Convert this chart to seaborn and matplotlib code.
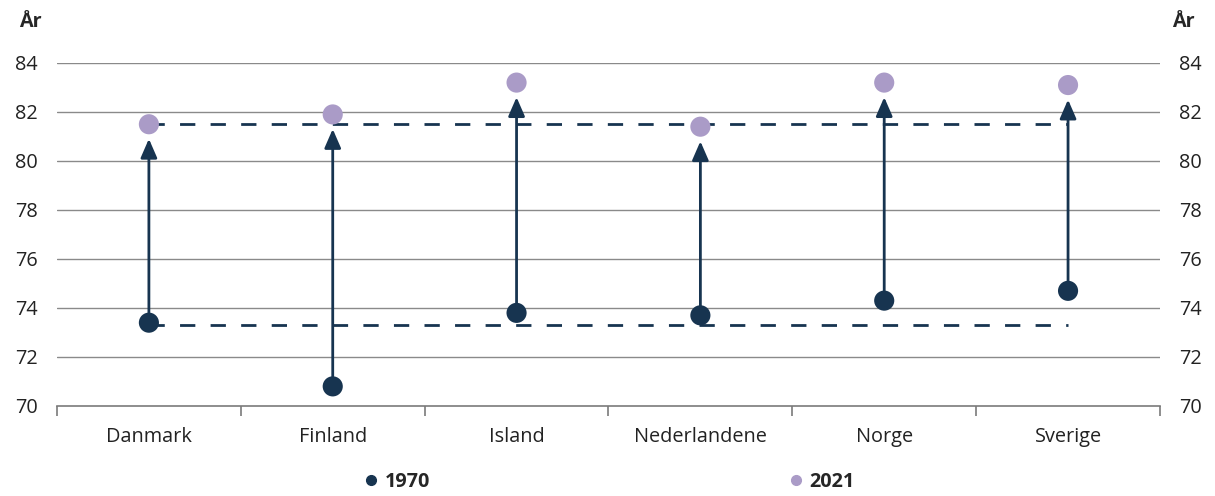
import pandas as pd
import matplotlib.pyplot as plt
import seaborn as sns
from matplotlib.lines import Line2D
from matplotlib.ticker import FixedLocator

countries = ["Danmark", "Finland", "Island", "Nederlandene", "Norge", "Sverige"]
y1970 = [73.4, 70.8, 73.8, 73.7, 74.3, 74.7]
y2021 = [81.5, 81.9, 83.2, 81.4, 83.2, 83.1]
ref_lines = [73.3, 81.5]
yticks = [70, 72, 74, 76, 78, 80, 82, 84]

navy = "#173450"
purple = "#aa9bc7"
grid_col = "#8a8a8a"

df = pd.DataFrame({
    "land": countries * 2,
    "alder": y1970 + y2021,
    "aar": ["1970"] * len(countries) + ["2021"] * len(countries),
})

sns.set_style("white")
plt.rcParams["font.family"] = ["Open Sans", "DejaVu Sans"]
fs = 14.3

fig, ax = plt.subplots(figsize=(12.15, 4.96), dpi=100)
fig.subplots_adjust(left=0.0469, right=0.9547, top=0.873, bottom=0.1815)

# points first, so the category order is fixed
sns.scatterplot(data=df, x="land", y="alder", hue="aar",
                palette={"1970": navy, "2021": purple}, s=210,
                edgecolor="none", legend=False, zorder=4, ax=ax)

# gridlines
for t in yticks[1:]:
    ax.axhline(t, color=grid_col, lw=1, zorder=0)

# dashed reference lines (Danmark level)
for v in ref_lines:
    ax.plot([countries[0], countries[-1]], [v, v], color=navy, lw=2,
            ls=(0, (5.5, 5.5)), zorder=1)

# arrows 1970 -> 2021
for i, (a, b) in enumerate(zip(y1970, y2021)):
    ax.annotate("", xy=(i, b), xytext=(i, a),
                arrowprops=dict(arrowstyle="-|>,head_length=1.15,head_width=0.5",
                                mutation_scale=10, color=navy, lw=2,
                                shrinkA=0, shrinkB=10.5),
                zorder=3)

ax.set_xlim(-0.5, len(countries) - 0.5)
ax.set_ylim(70, 84)
ax.set_yticks(yticks)
ax.set_xlabel("")
ax.set_ylabel("")

for s in ["top", "left", "right"]:
    ax.spines[s].set_visible(False)
ax.spines["bottom"].set_color("#7a7a7a")
ax.spines["bottom"].set_linewidth(1.2)

ax.tick_params(axis="x", which="major", length=0, pad=15, labelsize=fs)
ax.xaxis.set_minor_locator(FixedLocator([i - 0.5 for i in range(len(countries) + 1)]))
ax.tick_params(axis="x", which="minor", bottom=True, length=7, width=1.2,
               color="#7a7a7a", direction="out")
ax.tick_params(axis="y", length=0, pad=14, labelsize=fs, labelright=True, labelleft=True)
for lbl in ax.get_yticklabels() + ax.get_xticklabels():
    lbl.set_color("#222222")

fig.text(0.016, 0.955, "År", fontsize=fs, fontweight="bold", ha="left", va="center")
fig.text(0.965, 0.955, "År", fontsize=fs, fontweight="bold", ha="left", va="center")

handles = [Line2D([], [], marker="o", ls="", color=navy, markersize=7),
           Line2D([], [], marker="o", ls="", color=purple, markersize=7)]
fig.legend(handles, ["1970", "2021"], loc="center", bbox_to_anchor=(0.502, 0.028),
           ncol=2, frameon=False, handlelength=0.6, handletextpad=0.4,
           columnspacing=18.1, prop={"size": fs, "weight": "bold"})

plt.savefig("out.png", dpi=100)
